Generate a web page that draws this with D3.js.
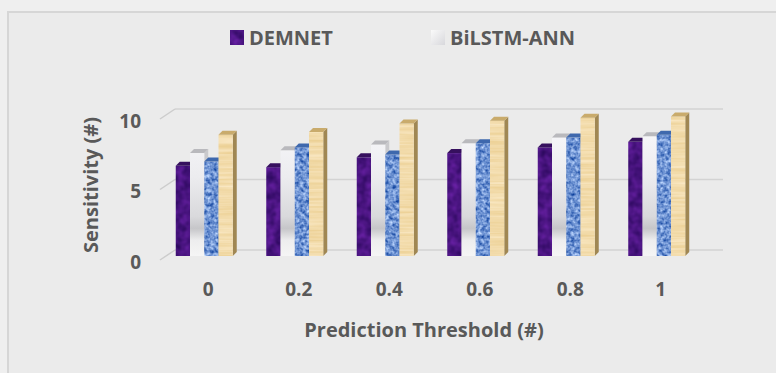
<!DOCTYPE html>
<html>
<head>
<meta charset="utf-8">
<script src="https://cdn.jsdelivr.net/npm/d3@7"></script>
<style>
  body { margin: 0; background: #efefef; }
  svg { display: block; font-family: "Open Sans", "DejaVu Sans", sans-serif; }
</style>
</head>
<body>
<svg id="svg_chart" width="776" height="373"></svg>
<script>

// data
const categories = ['0', '0.2', '0.4', '0.6', '0.8', '1'];
const seriesNames = ['DEMNET', 'BiLSTM-ANN', 'Series 3', 'Series 4'];
const demnet = [6.4, 6.3, 7.0, 7.3, 7.7, 8.1];
const bilstm = [7.3, 7.5, 7.9, 8.0, 8.4, 8.5];
const series3 = [6.7, 7.7, 7.2, 8.0, 8.4, 8.6];
const series4 = [8.6, 8.8, 9.4, 9.6, 9.8, 9.9];
const yTicks = [0, 5, 10];
const legendNames = ['DEMNET', 'BiLSTM-ANN'];

const values = [demnet, bilstm, series3, series4];

// variables
const svg = d3.select('#svg_chart');
const width = 776, height = 373;
const textColor = '#595959';
const gridColor = '#d3d3d3';

// depth of the back wall, and of the bars
const wallDx = 15, wallDy = -10;
const barDx = 4, barDy = -4;

// frame
svg.append('rect')
  .attr('x', 8).attr('y', 12)
  .attr('width', width + 20).attr('height', height + 20)
  .attr('fill', '#ebebeb')
  .attr('stroke', '#d6d6d6')
  .attr('stroke-width', 2);

// textures
const defs = svg.append('defs');

function noiseFilter(id, freq, oct, seed, matrix) {
  const f = defs.append('filter').attr('id', id)
    .attr('color-interpolation-filters', 'sRGB')
    .attr('x', 0).attr('y', 0).attr('width', 1).attr('height', 1);
  f.append('feTurbulence')
    .attr('type', 'fractalNoise')
    .attr('baseFrequency', freq)
    .attr('numOctaves', oct)
    .attr('seed', seed)
    .attr('result', 'noise');
  f.append('feColorMatrix')
    .attr('in', 'noise')
    .attr('type', 'matrix')
    .attr('values', matrix)
    .attr('result', 'col');
  f.append('feComposite')
    .attr('in', 'col').attr('in2', 'SourceAlpha')
    .attr('operator', 'in');
}

noiseFilter('texPurple', '0.12', 2, 3,
  '0.3 0 0 0 0.14  0.12 0 0 0 0.02  0.35 0 0 0 0.33  0 0 0 0 1');
noiseFilter('texBlue', '0.28', 2, 7,
  '1.0 0 0 0 -0.07  0.85 0 0 0 0.15  0.55 0 0 0 0.55  0 0 0 0 1');
noiseFilter('texTan', '0.015 0.35', 2, 5,
  '0.08 0 0 0 0.91  0.14 0 0 0 0.79  0.28 0 0 0 0.53  0 0 0 0 1');

const whiteGrad = defs.append('linearGradient').attr('id', 'gradWhite')
  .attr('gradientUnits', 'userSpaceOnUse')
  .attr('x1', 0).attr('x2', 0).attr('y1', 110).attr('y2', 258);
[[0, '#fbfbfd'], [0.45, '#ececef'], [0.72, '#d9d9dc'], [0.8, '#c6c6c9'],
 [0.88, '#ededee'], [1, '#f6f6f6']].forEach(s => {
  whiteGrad.append('stop').attr('offset', s[0]).attr('stop-color', s[1]);
});

const legendGrad = defs.append('linearGradient').attr('id', 'gradLegend')
  .attr('x1', 0).attr('x2', 1).attr('y1', 0).attr('y2', 1);
legendGrad.append('stop').attr('offset', 0).attr('stop-color', '#fafafa');
legendGrad.append('stop').attr('offset', 1).attr('stop-color', '#d8d8dc');

const styles = [
  { front: '#4b1680', filter: 'url(#texPurple)', top: '#36105e', side: '#2e0c52' },
  { front: 'url(#gradWhite)', filter: null, top: '#b9b9bd', side: '#c9c9cc' },
  { front: '#6e94d4', filter: 'url(#texBlue)', top: '#3e68ad', side: '#3a5f9c' },
  { front: '#f2d9a4', filter: 'url(#texTan)', top: '#c9ab6c', side: '#a08753' }
];

// scales
const x = d3.scaleBand()
  .domain(categories)
  .range([163, 706])
  .padding(0);

const yFront = d3.scaleLinear().domain([0, 10]).range([260, 119]);

const inner = d3.scaleBand()
  .domain(seriesNames)
  .range([0, 57])
  .padding(0);

// grid: back wall lines + diagonal to the front
const grid = svg.append('g').attr('class', 'grid');
grid.selectAll('.back').data(yTicks)
  .join('line')
  .attr('class', 'back')
  .attr('x1', x.range()[0] + wallDx - 3)
  .attr('x2', x.range()[1] + wallDx + 2)
  .attr('y1', d => yFront(d) + wallDy)
  .attr('y2', d => yFront(d) + wallDy)
  .attr('stroke', gridColor).attr('stroke-width', 1.5);

grid.selectAll('.diag').data(yTicks)
  .join('line')
  .attr('class', 'diag')
  .attr('x1', x.range()[0] - 3)
  .attr('x2', x.range()[0] + wallDx - 3)
  .attr('y1', d => yFront(d))
  .attr('y2', d => yFront(d) + wallDy)
  .attr('stroke', '#cccccc').attr('stroke-width', 1.5);

// bars
const rows = [];
categories.forEach((c, ci) => {
  seriesNames.forEach((s, si) => {
    rows.push({ cat: c, series: s, si: si, value: values[si][ci] });
  });
});

const yBar = v => yFront(v) + barDy;
const barX = d => x(d.cat) + x.bandwidth() / 2 - 4 - 28.5 + inner(d.series);
const bw = inner.bandwidth();

const bars = svg.append('g').attr('class', 'bars')
  .selectAll('g').data(rows)
  .join('g');

// side face
bars.append('path')
  .attr('d', d => {
    const x0 = barX(d) + bw, yt = yBar(d.value), yb = yBar(0);
    return `M${x0},${yt}L${x0 + barDx},${yt + barDy}L${x0 + barDx},${yb + barDy}L${x0},${yb}Z`;
  })
  .attr('fill', d => styles[d.si].side);

// front face
bars.append('rect')
  .attr('x', d => barX(d))
  .attr('y', d => yBar(d.value))
  .attr('width', bw)
  .attr('height', d => yBar(0) - yBar(d.value))
  .attr('fill', d => styles[d.si].front)
  .attr('filter', d => styles[d.si].filter);

// top face
bars.append('path')
  .attr('d', d => {
    const x0 = barX(d), yt = yBar(d.value);
    return `M${x0},${yt}L${x0 + bw},${yt}L${x0 + bw + barDx},${yt + barDy}L${x0 + barDx},${yt + barDy}Z`;
  })
  .attr('fill', d => styles[d.si].top);

// axes
const yAxis = d3.axisLeft(yFront).tickValues(yTicks).tickSize(0).tickPadding(0);
const yg = svg.append('g')
  .attr('transform', 'translate(141,2)')
  .call(yAxis);
yg.select('.domain').remove();
yg.selectAll('text')
  .style('font-family', '"Open Sans", sans-serif')
  .style('font-size', '19px')
  .style('font-weight', 'bold')
  .attr('fill', textColor);

const xAxis = d3.axisBottom(x).tickSize(0).tickPadding(0);
const xg = svg.append('g')
  .attr('transform', 'translate(0,282)')
  .call(xAxis);
xg.select('.domain').remove();
xg.selectAll('text')
  .style('font-family', '"Open Sans", sans-serif')
  .style('font-size', '19px')
  .style('font-weight', 'bold')
  .attr('fill', textColor);

// axis titles
svg.append('text')
  .attr('x', 424).attr('y', 337)
  .attr('text-anchor', 'middle')
  .style('font-size', '20px').style('font-weight', 'bold')
  .attr('fill', textColor)
  .text('Prediction Threshold (#)');

svg.append('text')
  .attr('transform', 'translate(98,185) rotate(-90)')
  .attr('text-anchor', 'middle')
  .style('font-size', '20px').style('font-weight', 'bold')
  .attr('fill', textColor)
  .text('Sensitivity (#)');

// legend
const legendX = [230, 431];
const legend = svg.append('g').selectAll('g').data(legendNames)
  .join('g')
  .attr('transform', (d, i) => `translate(${legendX[i]},30)`);

legend.append('rect')
  .attr('width', 14).attr('height', 15)
  .attr('fill', (d, i) => i == 0 ? '#4b1680' : 'url(#gradLegend)')
  .attr('filter', (d, i) => i == 0 ? 'url(#texPurple)' : null);

legend.append('text')
  .attr('x', 19).attr('y', 14.5)
  .style('font-size', '20px').style('font-weight', 'bold')
  .attr('fill', textColor)
  .text(d => d);

</script>
</body>
</html>
